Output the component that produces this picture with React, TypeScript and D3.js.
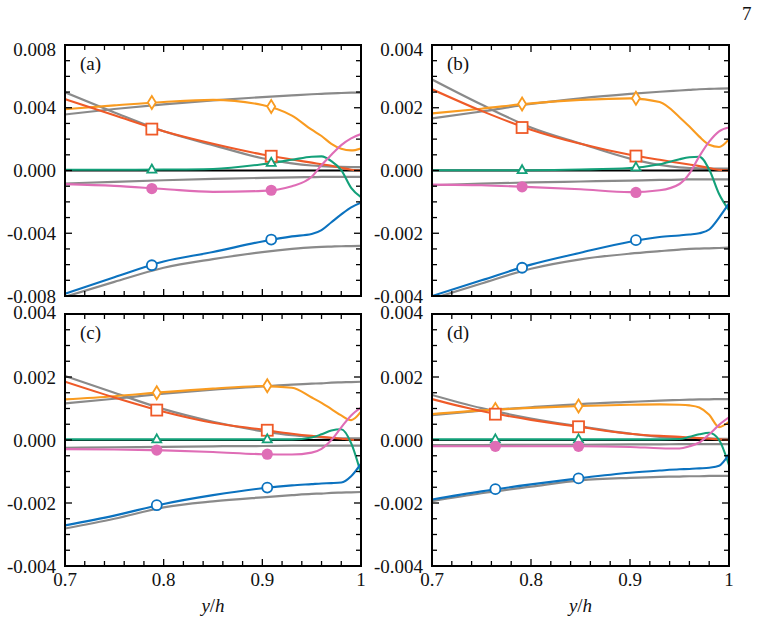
import React from 'react';
import * as d3 from 'd3';

// common sampling positions (y/h) for every profile
const X_GRID = [0.7, 0.75, 0.8, 0.85, 0.9, 0.93, 0.95, 0.96, 0.97, 0.98, 0.99, 1.0];
const X_TICKS = [0.7, 0.8, 0.9, 1.0];
const Y_TICKS_A = [-0.008, -0.004, 0, 0.004, 0.008];
const Y_TICKS_BCD = [-0.004, -0.002, 0, 0.002, 0.004];

// panel (a)
const A_ORANGE = [0.00391, 0.00415, 0.00437, 0.0045, 0.00418, 0.0035, 0.0026, 0.0022, 0.0017, 0.00138, 0.00128, 0.0014];
const A_RED = [0.00455, 0.00352, 0.0025, 0.0017, 0.00102, 0.0007, 0.0005, 0.0004, 0.0003, 0.00017, 0.00005, 0];
const A_GREEN = [0.00005, 0.00005, 0.00006, 0.0001, 0.0004, 0.00068, 0.00088, 0.0009, 0.0006, 0.00002, -0.0011, -0.0017];
const A_PINK = [-0.00087, -0.00098, -0.00118, -0.00136, -0.0013, -0.001, -0.0004, 0.00035, 0.001, 0.00162, 0.00205, 0.00232];
const A_BLUE = [-0.00785, -0.0068, -0.0058, -0.0052, -0.00452, -0.0042, -0.00405, -0.0038, -0.0033, -0.0028, -0.00235, -0.00205];
const A_GRAY = [
  [0.00357, 0.00392, 0.00422, 0.00447, 0.00468, 0.00479, 0.00486, 0.00489, 0.00492, 0.00494, 0.00496, 0.00497],
  [0.00498, 0.0037, 0.0025, 0.00162, 0.00078, 0.00045, 0.00032, 0.00028, 0.00025, 0.00023, 0.00022, 0.00022],
  [-0.00083, -0.00072, -0.00062, -0.00054, -0.00047, -0.00044, -0.00042, -0.00041, -0.00041, -0.0004, -0.0004, -0.0004],
  [-0.00805, -0.0071, -0.0062, -0.00565, -0.0052, -0.005, -0.0049, -0.00487, -0.00485, -0.00483, -0.00482, -0.0048],
];
const A_MARK_X = [0.788, 0.909];
const A_MARK_ORANGE = [0.00434, 0.00408];
const A_MARK_RED = [0.00264, 0.00091];
const A_MARK_GREEN = [0.00006, 0.00049];
const A_MARK_PINK = [-0.00115, -0.00126];
const A_MARK_BLUE = [-0.00604, -0.0044];

// panel (b)
const B_ORANGE = [0.00182, 0.00197, 0.00214, 0.00225, 0.0023, 0.00218, 0.0017, 0.0014, 0.00108, 0.00082, 0.00075, 0.001];
const B_RED = [0.00259, 0.0019, 0.0013, 0.00085, 0.0005, 0.00034, 0.00024, 0.00019, 0.00014, 0.00008, 0.00002, 0];
const B_GREEN = [0.00001, 0.00001, 0.00001, 0.00003, 0.00008, 0.0002, 0.00036, 0.00042, 0.00044, 0.00003, -0.00075, -0.00127];
const B_PINK = [-0.00045, -0.00047, -0.00053, -0.0006, -0.00069, -0.00063, -0.00043, -0.0001, 0.00045, 0.00092, 0.00125, 0.00137];
const B_BLUE = [-0.004, -0.0035, -0.003, -0.00262, -0.00227, -0.00212, -0.00207, -0.00204, -0.002, -0.00188, -0.0015, -0.00105];
const B_GRAY = [
  [0.00166, 0.00188, 0.00212, 0.0023, 0.00244, 0.00251, 0.00255, 0.00257, 0.00259, 0.0026, 0.00261, 0.00262],
  [0.0029, 0.0021, 0.00137, 0.00086, 0.00038, 0.00018, 0.0001, 0.00008, 0.00007, 0.00006, 0.00006, 0.00006],
  [-0.00047, -0.00042, -0.00038, -0.00035, -0.00032, -0.0003, -0.00029, -0.00028, -0.00028, -0.00028, -0.00028, -0.00028],
  [-0.00409, -0.0036, -0.00313, -0.00283, -0.00265, -0.00257, -0.00252, -0.0025, -0.00249, -0.00248, -0.00247, -0.00246],
];
const B_MARK_X = [0.791, 0.906];
const B_MARK_ORANGE = [0.00212, 0.0023];
const B_MARK_RED = [0.00137, 0.00046];
const B_MARK_GREEN = [0.00001, 0.0001];
const B_MARK_PINK = [-0.00052, -0.0007];
const B_MARK_BLUE = [-0.0031, -0.00222];

// panel (c)
const C_ORANGE = [0.00129, 0.00139, 0.00152, 0.00163, 0.00171, 0.00166, 0.00135, 0.00118, 0.00098, 0.00078, 0.00063, 0.0009];
const C_RED = [0.00185, 0.00135, 0.0009, 0.00055, 0.00033, 0.0002, 0.00013, 0.0001, 0.00007, 0.00004, 0.00001, 0];
const C_GREEN = [0.00002, 0.00002, 0.00002, 0.00002, 0.00002, 0.00002, 0.00008, 0.00018, 0.0003, 0.00034, -0.0001, -0.00107];
const C_PINK = [-0.00029, -0.0003, -0.00033, -0.00038, -0.00045, -0.00046, -0.0004, -0.00028, 0, 0.0004, 0.00078, 0.00103];
const C_BLUE = [-0.00271, -0.0024, -0.00203, -0.00175, -0.00153, -0.00144, -0.0014, -0.00138, -0.00137, -0.00135, -0.00115, -0.00075];
const C_GRAY = [
  [0.00116, 0.00131, 0.00147, 0.0016, 0.0017, 0.00176, 0.00179, 0.0018, 0.00182, 0.00183, 0.00184, 0.00185],
  [0.00203, 0.0015, 0.00098, 0.00058, 0.00028, 0.00015, 0.0001, 0.00008, 0.00006, 0.00005, 0.00005, 0.00005],
  [-0.00025, -0.00023, -0.00022, -0.0002, -0.00019, -0.00018, -0.00018, -0.00018, -0.00018, -0.00018, -0.00018, -0.00018],
  [-0.00281, -0.0025, -0.00214, -0.00195, -0.00182, -0.00175, -0.00171, -0.0017, -0.00168, -0.00167, -0.00166, -0.00165],
];
const C_MARK_X = [0.793, 0.905];
const C_MARK_ORANGE = [0.0015, 0.00172];
const C_MARK_RED = [0.00095, 0.00031];
const C_MARK_GREEN = [0.00002, 0.00002];
const C_MARK_PINK = [-0.00032, -0.00045];
const C_MARK_BLUE = [-0.00207, -0.00151];

// panel (d)
const D_ORANGE = [0.00082, 0.00094, 0.00102, 0.00108, 0.00112, 0.00113, 0.00112, 0.0011, 0.00103, 0.0008, 0.00041, 0.00058];
const D_RED = [0.0013, 0.00092, 0.00064, 0.00041, 0.0002, 0.00013, 0.0001, 0.00008, 0.00006, 0.00004, 0.00002, 0];
const D_GREEN = [0.00002, 0.00002, 0.00002, 0.00002, 0.00002, 0.00002, 0.00003, 0.0001, 0.00018, 0.00023, 0, -0.0008];
const D_PINK = [-0.0002, -0.0002, -0.0002, -0.0002, -0.00022, -0.00026, -0.00027, -0.0002, -0.00008, 0.00018, 0.00048, 0.00072];
const D_BLUE = [-0.00189, -0.00163, -0.00141, -0.00121, -0.00104, -0.00097, -0.00093, -0.00092, -0.0009, -0.00088, -0.00082, -0.00045];
const D_GRAY = [
  [0.00079, 0.00093, 0.00104, 0.00114, 0.00121, 0.00125, 0.00127, 0.00128, 0.00129, 0.00129, 0.0013, 0.0013],
  [0.00143, 0.00101, 0.00068, 0.00043, 0.0002, 0.0001, 0.00007, 0.00006, 0.00005, 0.00005, 0.00004, 0.00004],
  [-0.00016, -0.00016, -0.00015, -0.00015, -0.00014, -0.00014, -0.00013, -0.00013, -0.00013, -0.00013, -0.00013, -0.00013],
  [-0.00194, -0.00169, -0.00148, -0.00128, -0.0012, -0.00117, -0.00116, -0.00115, -0.00115, -0.00114, -0.00114, -0.00114],
];
const D_MARK_X = [0.764, 0.848];
const D_MARK_ORANGE = [0.00097, 0.00108];
const D_MARK_RED = [0.00082, 0.00042];
const D_MARK_GREEN = [0.00002, 0.00002];
const D_MARK_PINK = [-0.0002, -0.0002];
const D_MARK_BLUE = [-0.00156, -0.00122];

const COLOR = {
  orange: '#f99b20',
  red: '#ef5a28',
  green: '#13a079',
  pink: '#df6db6',
  blue: '#0b72bf',
  gray: '#8a8a8a',
};

const FONT = '"Liberation Serif", "Times New Roman", serif';

const PANELS = [
  {
    id: 'a', label: '(a)', left: 65, right: 361, top: 45, bottom: 296, yMax: 0.008, yTicks: Y_TICKS_A, row: 0,
    lines: { orange: A_ORANGE, red: A_RED, green: A_GREEN, pink: A_PINK, blue: A_BLUE }, grays: A_GRAY,
    markX: A_MARK_X, marks: { orange: A_MARK_ORANGE, red: A_MARK_RED, green: A_MARK_GREEN, pink: A_MARK_PINK, blue: A_MARK_BLUE },
  },
  {
    id: 'b', label: '(b)', left: 432, right: 729, top: 45, bottom: 296, yMax: 0.004, yTicks: Y_TICKS_BCD, row: 0,
    lines: { orange: B_ORANGE, red: B_RED, green: B_GREEN, pink: B_PINK, blue: B_BLUE }, grays: B_GRAY,
    markX: B_MARK_X, marks: { orange: B_MARK_ORANGE, red: B_MARK_RED, green: B_MARK_GREEN, pink: B_MARK_PINK, blue: B_MARK_BLUE },
  },
  {
    id: 'c', label: '(c)', left: 65, right: 361, top: 314, bottom: 566, yMax: 0.004, yTicks: Y_TICKS_BCD, row: 1,
    lines: { orange: C_ORANGE, red: C_RED, green: C_GREEN, pink: C_PINK, blue: C_BLUE }, grays: C_GRAY,
    markX: C_MARK_X, marks: { orange: C_MARK_ORANGE, red: C_MARK_RED, green: C_MARK_GREEN, pink: C_MARK_PINK, blue: C_MARK_BLUE },
  },
  {
    id: 'd', label: '(d)', left: 432, right: 729, top: 314, bottom: 566, yMax: 0.004, yTicks: Y_TICKS_BCD, row: 1,
    lines: { orange: D_ORANGE, red: D_RED, green: D_GREEN, pink: D_PINK, blue: D_BLUE }, grays: D_GRAY,
    markX: D_MARK_X, marks: { orange: D_MARK_ORANGE, red: D_MARK_RED, green: D_MARK_GREEN, pink: D_MARK_PINK, blue: D_MARK_BLUE },
  },
];

// marker glyphs, centred on the data point
const marker = (kind: string, cx: number, cy: number, key: string) => {
  const sw = 1.8;
  switch (kind) {
    case 'orange':
      return <path key={key} d={`M${cx},${cy - 6.5}L${cx + 4},${cy}L${cx},${cy + 6.5}L${cx - 4},${cy}Z`}
        fill="#fff" stroke={COLOR.orange} strokeWidth={sw} />;
    case 'red':
      return <rect key={key} x={cx - 5.5} y={cy - 5.5} width={11} height={11}
        fill="#fff" stroke={COLOR.red} strokeWidth={sw} />;
    case 'green':
      return <path key={key} d={`M${cx},${cy - 5}L${cx + 4.5},${cy + 3}L${cx - 4.5},${cy + 3}Z`}
        fill="#fff" stroke={COLOR.green} strokeWidth={sw} />;
    case 'pink':
      return <circle key={key} cx={cx} cy={cy} r={5.6} fill={COLOR.pink} />;
    default:
      return <circle key={key} cx={cx} cy={cy} r={5} fill="#fff" stroke={COLOR.blue} strokeWidth={sw} />;
  }
};

function Panel({ p }: { p: typeof PANELS[number] }) {
  const x = d3.scaleLinear().domain([0.7, 1.0]).range([p.left, p.right]);
  const y = d3.scaleLinear().domain([-p.yMax, p.yMax]).range([p.bottom, p.top]);
  const line = d3.line<number>()
    .x((_, i) => x(X_GRID[i]))
    .y((d) => y(d))
    .curve(d3.curveMonotoneX);

  const xMinor = d3.range(0, 16).map((i) => 0.7 + i * 0.02);
  const yMinor = d3.range(0, 17).map((i) => -p.yMax + (i * p.yMax) / 8);
  const major = 7;
  const minor = 5;
  const clipId = `clip-${p.id}`;
  const order = ['orange', 'red', 'green', 'pink', 'blue'] as const;
  const showX = p.row === 1;

  // the topmost label sits a little lower on the upper row, a little higher below
  const labelY = (t: number) => {
    if (t !== p.yMax) return y(t);
    return p.row === 0 ? y(t) + 4 : y(t) - 2;
  };

  return (
    <g>
      <defs>
        <clipPath id={clipId}>
          <rect x={p.left} y={p.top} width={p.right - p.left} height={p.bottom - p.top} />
        </clipPath>
      </defs>

      <g clipPath={`url(#${clipId})`}>
        {p.grays.map((g, i) => (
          <path key={`g${i}`} d={line(g) || ''} fill="none" stroke={COLOR.gray} strokeWidth={2.2} />
        ))}
        <line x1={x(0.7)} x2={x(1.0)} y1={y(0)} y2={y(0)} stroke="#000" strokeWidth={2} />
        {order.map((k) => (
          <path key={k} d={line(p.lines[k]) || ''} fill="none" stroke={COLOR[k]} strokeWidth={2.1} />
        ))}
        {order.map((k) => p.marks[k].map((v, i) => marker(k, x(p.markX[i]), y(v), `${k}${i}`)))}
      </g>

      {/* inward ticks on all four sides */}
      <g stroke="#000" strokeWidth={1.3}>
        {xMinor.map((t, i) => {
          const len = i % 5 === 0 ? major : minor;
          const xx = x(t);
          return (
            <g key={`xt${i}`}>
              <line x1={xx} x2={xx} y1={p.bottom} y2={p.bottom - len} />
              <line x1={xx} x2={xx} y1={p.top} y2={p.top + len} />
            </g>
          );
        })}
        {yMinor.map((t, i) => {
          const len = i % 4 === 0 ? major : minor;
          const yy = y(t);
          return (
            <g key={`yt${i}`}>
              <line x1={p.left} x2={p.left + len} y1={yy} y2={yy} />
              <line x1={p.right} x2={p.right - len} y1={yy} y2={yy} />
            </g>
          );
        })}
      </g>

      <rect x={p.left} y={p.top} width={p.right - p.left} height={p.bottom - p.top}
        fill="none" stroke="#000" strokeWidth={2} />

      {p.yTicks.map((t) => (
        <text key={`yl${t}`} x={p.left - 9} y={labelY(t)} dy="0.35em" textAnchor="end"
          fontFamily={FONT} fontSize={19} fill="#111">
          {t.toFixed(3)}
        </text>
      ))}

      {showX && X_TICKS.map((t) => (
        <text key={`xl${t}`} x={x(t)} y={p.bottom + 20} textAnchor="middle"
          fontFamily={FONT} fontSize={19} fill="#111">
          {String(t)}
        </text>
      ))}

      {showX && (
        <text x={(p.left + p.right) / 2} y={p.bottom + 46} textAnchor="middle"
          fontFamily={FONT} fontSize={19} fill="#111">
          <tspan fontStyle="italic">y</tspan>/<tspan fontStyle="italic">h</tspan>
        </text>
      )}

      <text x={p.left + 15} y={p.top + 25} fontFamily={FONT} fontSize={19} fill="#111">
        {p.label}
      </text>
    </g>
  );
}

export default function App() {
  return (
    <svg width={758} height={626} style={{ position: 'absolute', left: 0, top: 0, background: '#fff' }}>
      <text x={742} y={20} fontFamily={FONT} fontSize={19} fill="#111">7</text>
      {PANELS.map((p) => <Panel key={p.id} p={p} />)}
    </svg>
  );
}
